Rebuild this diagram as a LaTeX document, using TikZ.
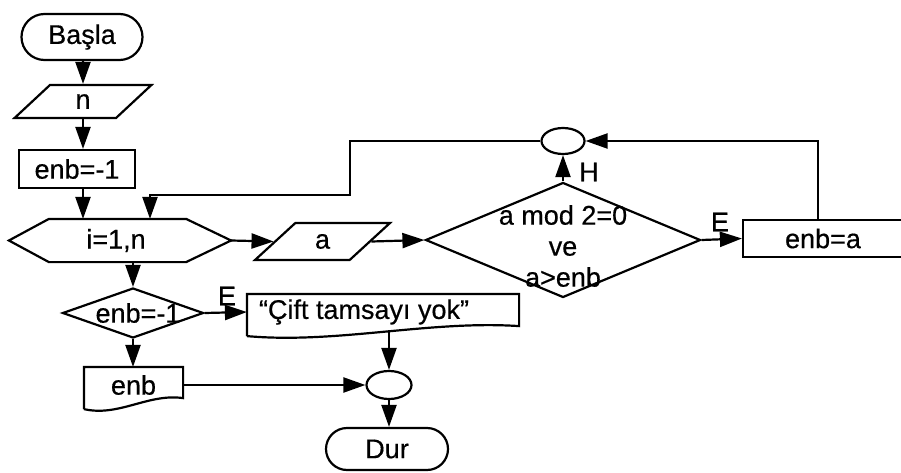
\documentclass[tikz,border=0pt]{standalone}
\usepackage{fontspec}
\setmainfont{Liberation Sans}[FakeBold=0.5]
\usetikzlibrary{shapes.geometric,shapes.misc,arrows.meta}
\begin{document}
\begin{tikzpicture}[x=1pt,y=-1pt,line width=2.2pt,
  every node/.style={font=\fontsize{27}{31}\selectfont, inner sep=0pt},
  term/.style={draw, rounded rectangle},
  io/.style={draw, trapezium, trapezium stretches=true},
  proc/.style={draw, rectangle},
  dec/.style={draw, diamond},
  conn/.style={draw, ellipse},
  frame/.style={draw=none, rectangle},
  arr/.style={-{Triangle[length=22pt,width=15pt]}}
]
\useasboundingbox (0,0) rectangle (901,473);
\clip (0,0) rectangle (901,473);

% nodes
\node[term, minimum width=121pt, minimum height=46pt] (basla) at (82,37) {Başla};
\node[io, trapezium left angle=61, trapezium right angle=119, minimum width=137pt, minimum height=33pt] (n) at (83,101.5) {n};
\node[proc, minimum width=116pt, minimum height=38pt] (init) at (77,169) {enb=-1};

\node[frame, minimum width=220pt, minimum height=41pt] (loop) at (120,240.5) {};
\node (looptxt) at (116,240.5) {i=1,n};
\draw (loop.west) -- ([xshift=40pt]loop.north west) -- ([xshift=-45pt]loop.north east)
  -- (loop.east) -- ([xshift=-45pt]loop.south east) -- ([xshift=40pt]loop.south west) -- cycle;

\node[io, trapezium left angle=53, trapezium right angle=127, minimum width=135pt, minimum height=37pt] (a) at (322.5,241.5) {a};

\node[dec, minimum width=275pt, minimum height=115pt] (cond) at (563,240) {};
\node[align=center] (condtxt) at (563,246) {a mod 2=0\\ve\\a>enb};

\node[conn, minimum width=43pt, minimum height=26pt] (conn1) at (563,141) {};
\node[proc, minimum width=160pt, minimum height=37pt] (upd) at (823,238.5) {enb=a};

\node[dec, minimum width=141pt, minimum height=50pt] (chk) at (133,313) {};
\node (chktxt) at (138,313) {enb=-1};

\node[frame, minimum width=270pt, minimum height=34pt] (msg) at (383,312) {};
\node (msgtxt) at (364,312) {“Çift tamsayı yok”};
\draw ([yshift=-6pt]msg.south west) -- (msg.north west) -- (msg.north east) -- ([yshift=4pt]msg.south east)
  .. controls +(-90,-6) and +(90,8) .. ([yshift=-6pt]msg.south west);

\node[frame, minimum width=97pt, minimum height=34pt] (out) at (133.5,385) {enb};
\draw ([yshift=-6pt]out.south west) -- (out.north west) -- (out.north east) -- ([yshift=5pt]out.south east)
  .. controls +(-35,-5) and +(35,8) .. ([yshift=-6pt]out.south west);

\node[conn, minimum width=45pt, minimum height=28pt] (conn2) at (389,385) {};
\node[term, minimum width=122pt, minimum height=42pt] (dur) at (387,449) {Dur};

% labels
\node (h) at (589,172) {H};
\node (e1) at (720,222) {E};
\node (e2) at (227,296) {E};

% connectors
\coordinate (lb) at (350,195);
\draw[arr] (basla.south -| n.center) -- (n.north);
\draw[arr] (n.south) -- (n.south |- init.north);
\draw[arr] (n.south |- init.south) -- (n.south |- loop.north);
\draw[arr] (conn1.west) -| (lb) -| ([xshift=30pt]loop.north);
\draw[arr] (loop.east) -- (a.west);
\draw[arr] (a.east) -- (cond.west);
\draw[arr] (cond.north) -- (conn1.south);
\draw[arr] (cond.east) -- (upd.west);
\draw[arr] ([xshift=-5pt]upd.north) |- (conn1.east);
\draw[arr] (loop.south -| chk.north) -- (chk.north);
\draw[arr] (chk.east) -- (msg.west);
\draw[arr] (chk.south) -- (chk.south |- out.north);
\draw[arr] (conn2.north |- msg.south) -- (conn2.north);
\draw[arr] (out.east) -- (conn2.west);
\draw[arr] (conn2.south) -- (conn2.south |- dur.north);
\end{tikzpicture}
\end{document}
